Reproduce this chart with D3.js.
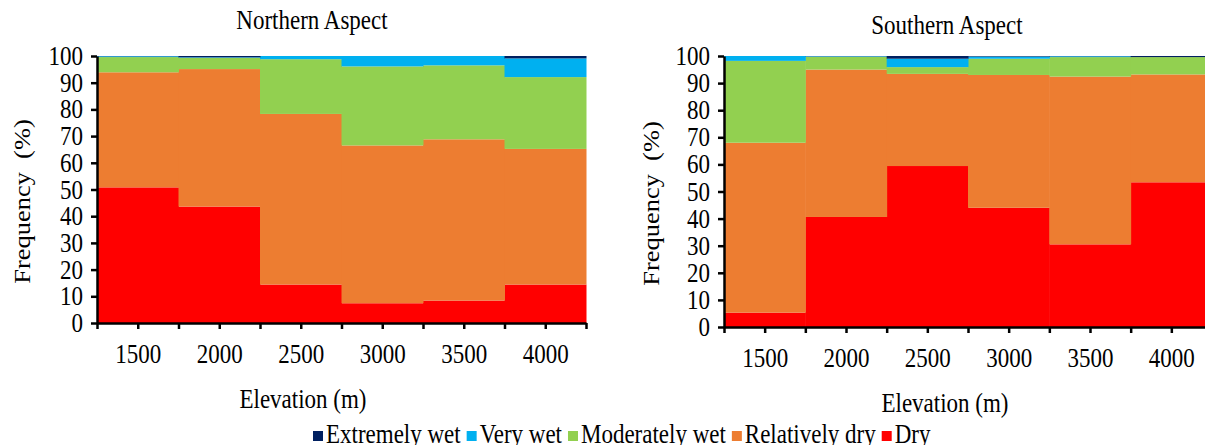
<!DOCTYPE html>
<html>
<head>
<meta charset="utf-8">
<script src="https://cdn.jsdelivr.net/npm/d3@7"></script>
<style>
  body { margin: 0; background: #fff; }
  .axis path, .axis line { stroke: #000; stroke-width: 2.5; }
  text.tall { transform-box: fill-box; transform-origin: center; transform: scaleY(1.15); }
</style>
</head>
<body>
<div id="chart"></div>
<script>
const elevations = ["1500", "2000", "2500", "3000", "3500", "4000"]
const classes = ["Dry", "Relatively dry", "Moderately wet", "Very wet", "Extremely wet"]
const colors = ["#ff0000", "#ed7d31", "#92d050", "#00b0f0", "#002060"]

// Northern aspect, % per elevation band
const northDry      = [50.8, 43.6, 14.4, 7.4, 8.4, 14.4]
const northRelDry   = [43.1, 51.5, 63.9, 59.1, 60.4, 50.8]
const northModWet   = [5.7, 4.2, 20.5, 29.6, 27.7, 26.9]
const northVeryWet  = [0.3, 0.2, 1.2, 3.9, 3.5, 7.0]
const northExtWet   = [0.1, 0.5, 0.0, 0.0, 0.0, 0.9]

// Southern aspect
const southDry      = [5.3, 40.6, 59.4, 44.0, 30.5, 53.4]
const southRelDry   = [62.7, 54.4, 34.0, 49.0, 61.9, 39.8]
const southModWet   = [30.2, 4.7, 2.5, 6.0, 7.2, 6.4]
const southVeryWet  = [1.8, 0.2, 3.1, 0.8, 0.3, 0.0]
const southExtWet   = [0.0, 0.1, 1.0, 0.2, 0.1, 0.4]

const W = 1205, H = 445
const FONT = '"Liberation Serif"'
const FS = "23px"

const svg = d3.select("#chart").append("svg")
  .attr("width", W)
  .attr("height", H)

function buildRows(series) {
  return elevations.map((e, i) => {
    const row = { elevation: e }
    classes.forEach((c, k) => { row[c] = series[k][i] })
    return row
  })
}

function styleText(sel) {
  return sel.classed("tall", true)
    .style("font-family", FONT)
    .style("font-size", FS)
    .attr("fill", "#000")
}

function drawPanel(opts) {
  const { left, right, top, bottom, title, titleX, titleY, series, yLabelX, xLabelX } = opts
  const rows = buildRows(series)
  const stack = d3.stack().keys(classes)(rows)

  const x = d3.scaleBand().domain(elevations).range([left, right]).padding(0)
  const xLin = d3.scaleLinear().domain([0, 6]).range([left, right])
  const y = d3.scaleLinear().domain([0, 100]).range([bottom, top])

  const g = svg.append("g")

  g.selectAll("g.layer")
    .data(stack)
    .enter().append("g")
      .attr("class", "layer")
      .attr("fill", (d, i) => colors[i])
    .selectAll("rect")
    .data(d => d)
    .enter().append("rect")
      .attr("x", d => x(d.data.elevation))
      .attr("width", x.bandwidth() + 0.5)
      .attr("y", d => y(d[1]))
      .attr("height", d => Math.max(0, y(d[0]) - y(d[1])))

  // y axis
  const yAxis = g.append("g")
    .attr("class", "axis")
    .attr("transform", `translate(${left},0)`)
    .call(d3.axisLeft(y).tickValues(d3.range(0, 101, 10)).tickSize(6).tickPadding(8).tickSizeOuter(0))
  styleText(yAxis.selectAll("text"))

  // x axis: marks at every half band, labels at band centres
  const halfTicks = d3.range(0, 13).map(d => d / 2)
  const xAxis = g.append("g")
    .attr("class", "axis")
    .attr("transform", `translate(0,${bottom})`)
    .call(d3.axisBottom(xLin).tickValues(halfTicks).tickSize(6).tickPadding(16).tickSizeOuter(0)
      .tickFormat(d => (d % 1 === 0.5) ? elevations[Math.floor(d)] : ""))
  styleText(xAxis.selectAll("text"))

  styleText(g.append("text"))
    .attr("x", titleX)
    .attr("y", titleY)
    .attr("text-anchor", "middle")
    .text(title)

  styleText(g.append("text"))
    .attr("x", xLabelX)
    .attr("y", bottom + 84)
    .attr("text-anchor", "middle")
    .text("Elevation (m)")

  g.append("text")
    .attr("transform", `translate(${yLabelX},${(top + bottom) / 2 + 12}) rotate(-90) scale(1.15,1)`)
    .attr("text-anchor", "middle")
    .style("font-family", FONT)
    .style("font-size", FS)
    .style("white-space", "pre")
    .text("Frequency  (%)")
}

drawPanel({
  left: 97, right: 586, top: 56, bottom: 323,
  title: "Northern Aspect", titleX: 312, titleY: 28, yLabelX: 30, xLabelX: 303,
  series: [northDry, northRelDry, northModWet, northVeryWet, northExtWet]
})

drawPanel({
  left: 724, right: 1212, top: 56, bottom: 327,
  title: "Southern Aspect", titleX: 947, titleY: 33, yLabelX: 659, xLabelX: 945,
  series: [southDry, southRelDry, southModWet, southVeryWet, southExtWet]
})

// legend, in reverse stack order like the original
const legendOrder = [4, 3, 2, 1, 0]
const legend = svg.append("g").attr("transform", "translate(313,436)")
let lx = 0
legendOrder.forEach(k => {
  legend.append("rect")
    .attr("x", lx)
    .attr("y", -5)
    .attr("width", 10)
    .attr("height", 10)
    .attr("fill", colors[k])
  const t = styleText(legend.append("text"))
    .attr("x", lx + 13)
    .attr("y", 6)
    .text(classes[k])
  lx += 13 + t.node().getComputedTextLength() + 6
})
</script>
</body>
</html>
